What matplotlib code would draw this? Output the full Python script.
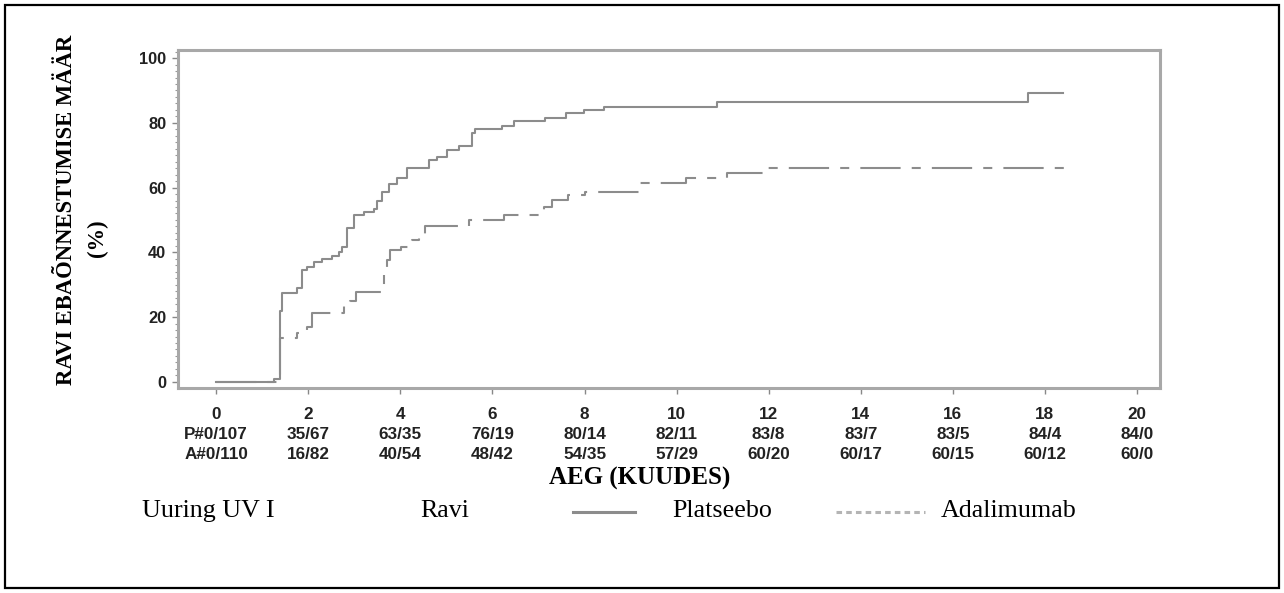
import matplotlib
matplotlib.use("Agg")
import matplotlib.pyplot as plt
from matplotlib.lines import Line2D
from matplotlib.patches import Rectangle
from matplotlib.ticker import MultipleLocator

# Kaplan-Meier style curves
plac_t = [0, 1.25, 1.38, 1.42, 1.75, 1.86, 1.97, 2.12, 2.30, 2.51, 2.66, 2.73, 2.84, 2.99,
          3.20, 3.42, 3.49, 3.60, 3.75, 3.93, 4.14, 4.62, 4.80, 5.01, 5.27, 5.56, 5.63,
          6.21, 6.46, 7.15, 7.59, 7.99, 8.42, 10.87, 17.63, 18.4]
plac_v = [0, 1, 22, 27.5, 29, 34.5, 35.5, 37, 38, 39, 40, 41.5, 47.5, 51.5,
          52.5, 53.5, 56, 58.5, 61, 63, 66, 68.5, 69.5, 71.5, 73, 77, 78,
          79, 80.5, 81.5, 83, 84, 85, 86.4, 89.3, 89.3]

ada_t = [0, 1.38, 1.75, 1.97, 2.07, 2.77, 2.90, 3.04, 3.65, 3.70, 3.77, 4.01, 4.26, 4.40,
         4.54, 5.48, 6.25, 7.11, 7.29, 7.65, 8.01, 9.2, 10.2, 11.1, 11.96, 18.6]
ada_v = [0, 13.6, 15, 17, 21.2, 23.3, 25, 27.9, 33, 37.7, 40.7, 41.8, 43.8, 45.5,
         48, 50, 51.5, 54, 56.2, 57.7, 58.7, 61.4, 63, 64.5, 66, 66]

months = [0, 2, 4, 6, 8, 10, 12, 14, 16, 18, 20]
plac_risk = ["P#0/107", "35/67", "63/35", "76/19", "80/14", "82/11", "83/8", "83/7", "83/5", "84/4", "84/0"]
ada_risk = ["A#0/110", "16/82", "40/54", "48/42", "54/35", "57/29", "60/20", "60/17", "60/15", "60/12", "60/0"]

W, H = 1284, 593
plt.rcParams["lines.scale_dashes"] = False
fig = plt.figure(figsize=(W / 100, H / 100), dpi=100)
ax = fig.add_axes([178 / W, 1 - 388 / H, (1160 - 178) / W, (388 - 50) / H])

line_col = "#8c8c8c"
ax.step(plac_t, plac_v, where="post", color=line_col, lw=1.5)
ax.step(ada_t, ada_v, where="post", color=line_col, lw=1.5, dashes=(29, 8, 6.5, 8))

ax.set_xlim(-0.83, 20.5)
ax.set_ylim(-1.9, 102.5)

frame_col = "#a8a8a8"
for sp in ax.spines.values():
    sp.set_color(frame_col)
    sp.set_linewidth(2.2)

ax.set_yticks([0, 20, 40, 60, 80, 100])
ax.yaxis.set_minor_locator(MultipleLocator(2))
ax.set_xticks(months)
ax.set_xticklabels([f"{m}\n{p}\n{a}" for m, p, a in zip(months, plac_risk, ada_risk)],
                   linespacing=1.38)
ax.tick_params(axis="both", which="major", direction="out", length=4.5, width=1,
               color="#888888", labelcolor="#222222")
ax.tick_params(axis="y", which="minor", direction="out", length=2, width=0.8, color="#999999")
ax.tick_params(axis="x", pad=9.5)
ax.tick_params(axis="y", pad=4)
for lab in ax.get_xticklabels():
    lab.set_fontfamily("Liberation Sans")
    lab.set_fontweight("bold")
    lab.set_fontsize(12.3)
for lab in ax.get_yticklabels():
    lab.set_fontfamily("Liberation Sans")
    lab.set_fontweight("bold")
    lab.set_fontsize(11.8)

serif = "Liberation Serif"
fig.text(67 / W, 1 - 210 / H, "RAVI EBAÕNNESTUMISE MÄÄR", rotation=90, ha="center", va="center",
         fontfamily=serif, fontweight="bold", fontsize=16.3)
fig.text(97 / W, 1 - 238 / H, "(%)", rotation=90, ha="center", va="center",
         fontfamily=serif, fontweight="bold", fontsize=16.3)
fig.text(640 / W, 1 - 478 / H, "AEG (KUUDES)", ha="center", va="center",
         fontfamily=serif, fontweight="bold", fontsize=18)

# legend row
base = 1 - 517 / H
fig.text(142 / W, base, "Uuring UV I", va="baseline", fontfamily=serif, fontsize=18.7)
fig.text(420 / W, base, "Ravi", va="baseline", fontfamily=serif, fontsize=18.7)
fig.text(672 / W, base, "Platseebo", va="baseline", fontfamily=serif, fontsize=18.7)
fig.text(941 / W, base, "Adalimumab", va="baseline", fontfamily=serif, fontsize=18.7)
ly = 1 - 512 / H
fig.add_artist(Line2D([573 / W, 635 / W], [ly, ly], color="#8c8c8c", lw=2.2))
fig.add_artist(Line2D([836 / W, 925 / W], [ly, ly], color="#b4b4b4", lw=2.2, dashes=(4, 3)))

# outer frame
fig.add_artist(Rectangle((5 / W, 5 / H), (1279 - 5) / W, (588 - 5) / H, transform=fig.transFigure,
                         fill=False, edgecolor="black", lw=1.6))

fig.savefig("out.png", dpi=100)
